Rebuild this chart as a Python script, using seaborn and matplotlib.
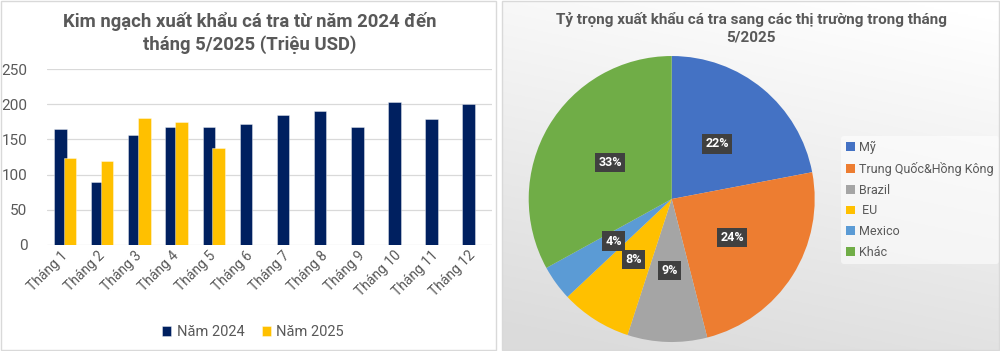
import numpy as np
import pandas as pd
import matplotlib
matplotlib.use("Agg")
import matplotlib.pyplot as plt
import seaborn as sns
from matplotlib.patches import Rectangle

# ---------------- data ----------------
months = [f"Tháng {i}" for i in range(1, 13)]
values_2024 = [165, 90, 156, 168, 167, 172, 184, 191, 167, 203, 179, 200]
values_2025 = [123, 120, 181, 175, 138]
series_names = ["Năm 2024", "Năm 2025"]
bar_colors = ["#002060", "#FFC000"]

markets = ["Mỹ", "Trung Quốc&Hồng Kông", "Brazil", " EU", "Mexico", "Khác"]
shares = [22, 24, 9, 8, 4, 33]
pie_colors = ["#4472C4", "#ED7D31", "#A5A5A5", "#FFC000", "#5B9BD5", "#70AD47"]

title_left = "Kim ngạch xuất khẩu cá tra từ năm 2024 đến\ntháng 5/2025 (Triệu USD)"
title_right = "Tỷ trọng xuất khẩu cá tra sang các thị trường trong tháng\n5/2025"

# ---------------- style ----------------
sns.set_theme(style="white")
plt.rcParams["font.family"] = ["Roboto", "DejaVu Sans"]
TXT = "#595959"

fig = plt.figure(figsize=(10, 3.51), dpi=100)

# left panel frame
fig.patches.append(Rectangle((0.001, 0.002), 0.495, 0.995, transform=fig.transFigure,
                             facecolor="white", edgecolor="#D9D9D9", lw=1, zorder=0))
# right panel gradient background
bg = fig.add_axes([0.502, 0.003, 0.497, 0.994], zorder=0)
gy, gx = np.mgrid[0:1:200j, 0:1:300j]
shade = 1 - 0.14 * np.clip(0.85 * gy + 0.25 * (1 - gx) - 0.05, 0, 1)
bg.imshow(np.dstack([shade] * 3), aspect="auto", extent=[0, 1, 0, 1])
bg.set_axis_off()
fig.patches.append(Rectangle((0.502, 0.003), 0.497, 0.994, transform=fig.transFigure,
                             facecolor="none", edgecolor="#D9D9D9", lw=1, zorder=5))

# ---------------- bar chart ----------------
df = pd.concat([
    pd.DataFrame({"Tháng": months, "Giá trị": values_2024, "Năm": series_names[0]}),
    pd.DataFrame({"Tháng": months[:len(values_2025)], "Giá trị": values_2025, "Năm": series_names[1]}),
], ignore_index=True)

ax = fig.add_axes([0.0467, 0.302, 0.4453, 0.5014], zorder=2)
sns.barplot(data=df, x="Tháng", y="Giá trị", hue="Năm", order=months, hue_order=series_names,
            palette=bar_colors, width=0.52, gap=-0.3, dodge=True, errorbar=None, ax=ax,
            edgecolor=(1, 1, 1, 0.45), linewidth=0.6, saturation=1)
ax.set_xlim(-0.5, 11.5)
ax.set_ylim(0, 250)
ax.set_yticks([0, 50, 100, 150, 200, 250])
ax.yaxis.grid(True, color="#D9D9D9", lw=0.9)
ax.set_axisbelow(True)
for s in ax.spines.values():
    s.set_visible(False)
ax.set_xlabel("")
ax.set_ylabel("")
ax.tick_params(axis="y", length=0, pad=14, labelsize=11, labelcolor=TXT)
ax.tick_params(axis="x", length=0, pad=6, labelsize=10, labelcolor=TXT)
for lab in ax.get_xticklabels():
    lab.set_rotation(45)
    lab.set_ha("right")
    lab.set_va("center")
    lab.set_rotation_mode("anchor")
sns.move_legend(ax, "center", bbox_to_anchor=(0.253, 0.054), bbox_transform=fig.transFigure,
                ncol=2, frameon=False, title=None, handlelength=0.65, handleheight=0.65,
                handletextpad=0.35, columnspacing=1.2, fontsize=10.5, labelcolor=TXT)
fig.text(0.25, 0.907, title_left, ha="center", va="center", fontsize=13.3, fontweight="bold",
         color=TXT, linespacing=1.3)

# ---------------- pie chart ----------------
pax = fig.add_axes([0.5287, 0.0256, 0.286, 0.8148], zorder=2)
wedges, texts, autotexts = pax.pie(shares, colors=pie_colors, startangle=90, counterclock=False,
                                   autopct=lambda p: f"{p:.0f}%", pctdistance=0.5,
                                   wedgeprops=dict(edgecolor="none"))
pax.set_xlim(-1, 1)
pax.set_ylim(-1, 1)
for t in autotexts:
    t.set(color="white", fontweight="bold", fontsize=9)
    t.set_bbox(dict(boxstyle="square,pad=0.25", facecolor="#404040", edgecolor="none"))
pax.legend(wedges, markets, loc="upper left", bbox_to_anchor=(0.841, 1 - 136 / 351),
           bbox_transform=fig.transFigure, frameon=True, facecolor="white", edgecolor="none",
           framealpha=0.55, fontsize=9, labelcolor=TXT, handlelength=0.7, handleheight=0.7,
           handletextpad=0.35, labelspacing=0.62, borderpad=0.4, borderaxespad=0)
fig.text(0.751, 0.919, title_right, ha="center", va="center", fontsize=11, fontweight="bold",
         color=TXT, linespacing=1.3)

fig.savefig("out.png", dpi=100)
